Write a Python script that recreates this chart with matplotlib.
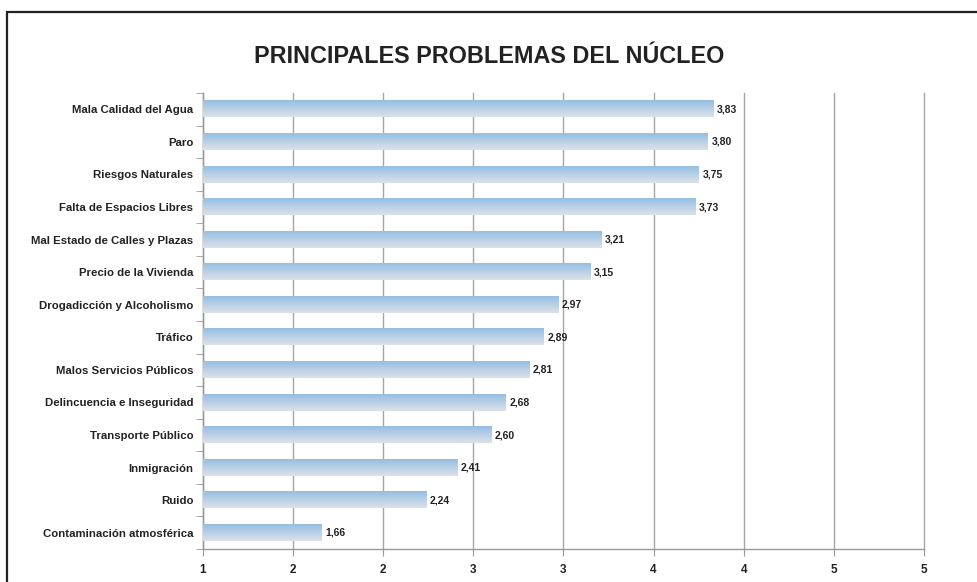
import numpy as np
import matplotlib
matplotlib.use('Agg')
import matplotlib.pyplot as plt
from matplotlib.patches import Rectangle
from matplotlib.ticker import FixedLocator, FuncFormatter

# Datos del gráfico
problemas = ['Mala Calidad del Agua', 'Paro', 'Riesgos Naturales',
             'Falta de Espacios Libres', 'Mal Estado de Calles y Plazas',
             'Precio de la Vivienda', 'Drogadicción y Alcoholismo', 'Tráfico',
             'Malos Servicios Públicos', 'Delincuencia e Inseguridad',
             'Transporte Público', 'Inmigración', 'Ruido',
             'Contaminación atmosférica']
valores = [3.83, 3.80, 3.75, 3.73, 3.21, 3.15, 2.97, 2.89, 2.81, 2.68,
           2.60, 2.41, 2.24, 1.66]
ticks_x = [1, 1.5, 2, 2.5, 3, 3.5, 4, 4.5, 5]

plt.rcParams['font.family'] = ['Liberation Sans', 'DejaVu Sans']

fig = plt.figure(figsize=(9.78, 5.82), dpi=100)
ax = fig.add_axes([203 / 978, 1 - 549 / 582, 721 / 978, 456 / 582])

# Marco exterior del gráfico (cortado a la derecha y abajo)
fig.patches.append(Rectangle((7 / 978, -0.05), 1.05, 1 - 12 / 582 + 0.05,
                             transform=fig.transFigure, fill=False,
                             edgecolor='#222222', linewidth=1.6))

y = np.arange(len(problemas))
barras = ax.barh(y, [v - 1 for v in valores], left=1, height=0.5,
                 color='none', zorder=3)

# Degradado azul -> gris claro en cada barra
grad = np.linspace(0, 1, 64).reshape(-1, 1)
cmap = matplotlib.colors.LinearSegmentedColormap.from_list('g', ['#95bfe3', '#dde1e9'])
for b in barras:
    x0, y0, w, h = b.get_x(), b.get_y(), b.get_width(), b.get_height()
    ax.imshow(grad, extent=(x0, x0 + w, y0 + h, y0), aspect='auto', cmap=cmap,
              zorder=3, interpolation='bicubic')

for yi, v in zip(y, valores):
    ax.text(v + 0.02, yi, f'{v:.2f}'.replace('.', ','), va='center', ha='left',
            fontsize=7.5, fontweight='bold', color='#222222', zorder=4)

ax.set_xlim(1, 5)
ax.set_ylim(len(problemas) - 0.5, -0.5)
ax.set_xticks(ticks_x)
ax.xaxis.set_major_formatter(FuncFormatter(lambda v, p: f'{v + 1e-9:.0f}'))
ax.set_yticks(y)
ax.set_yticklabels(problemas)
ax.yaxis.set_minor_locator(FixedLocator(np.arange(-0.5, len(problemas), 1)))
ax.tick_params(axis='y', which='major', length=0, pad=7, labelsize=8.2)
ax.tick_params(axis='y', which='minor', length=5, color='#999999')
ax.tick_params(axis='x', length=5, color='#999999', labelsize=8.5, pad=6)
for lbl in ax.get_yticklabels() + ax.get_xticklabels():
    lbl.set_fontweight('bold')
    lbl.set_color('#222222')

ax.grid(axis='x', color='#a6a6a6', linewidth=1, zorder=0)
for gl in ax.get_xgridlines():
    gl.set_clip_on(False)
ax.set_axisbelow(True)
for s in ['top', 'right']:
    ax.spines[s].set_visible(False)
for s in ['left', 'bottom']:
    ax.spines[s].set_color('#999999')
    ax.spines[s].set_linewidth(1)

fig.text(0.5, 1 - 63 / 582, 'PRINCIPALES PROBLEMAS DEL NÚCLEO', ha='center',
         va='baseline', fontsize=16.8, fontweight='bold', color='#222222')

fig.savefig('out.png', dpi=100)
